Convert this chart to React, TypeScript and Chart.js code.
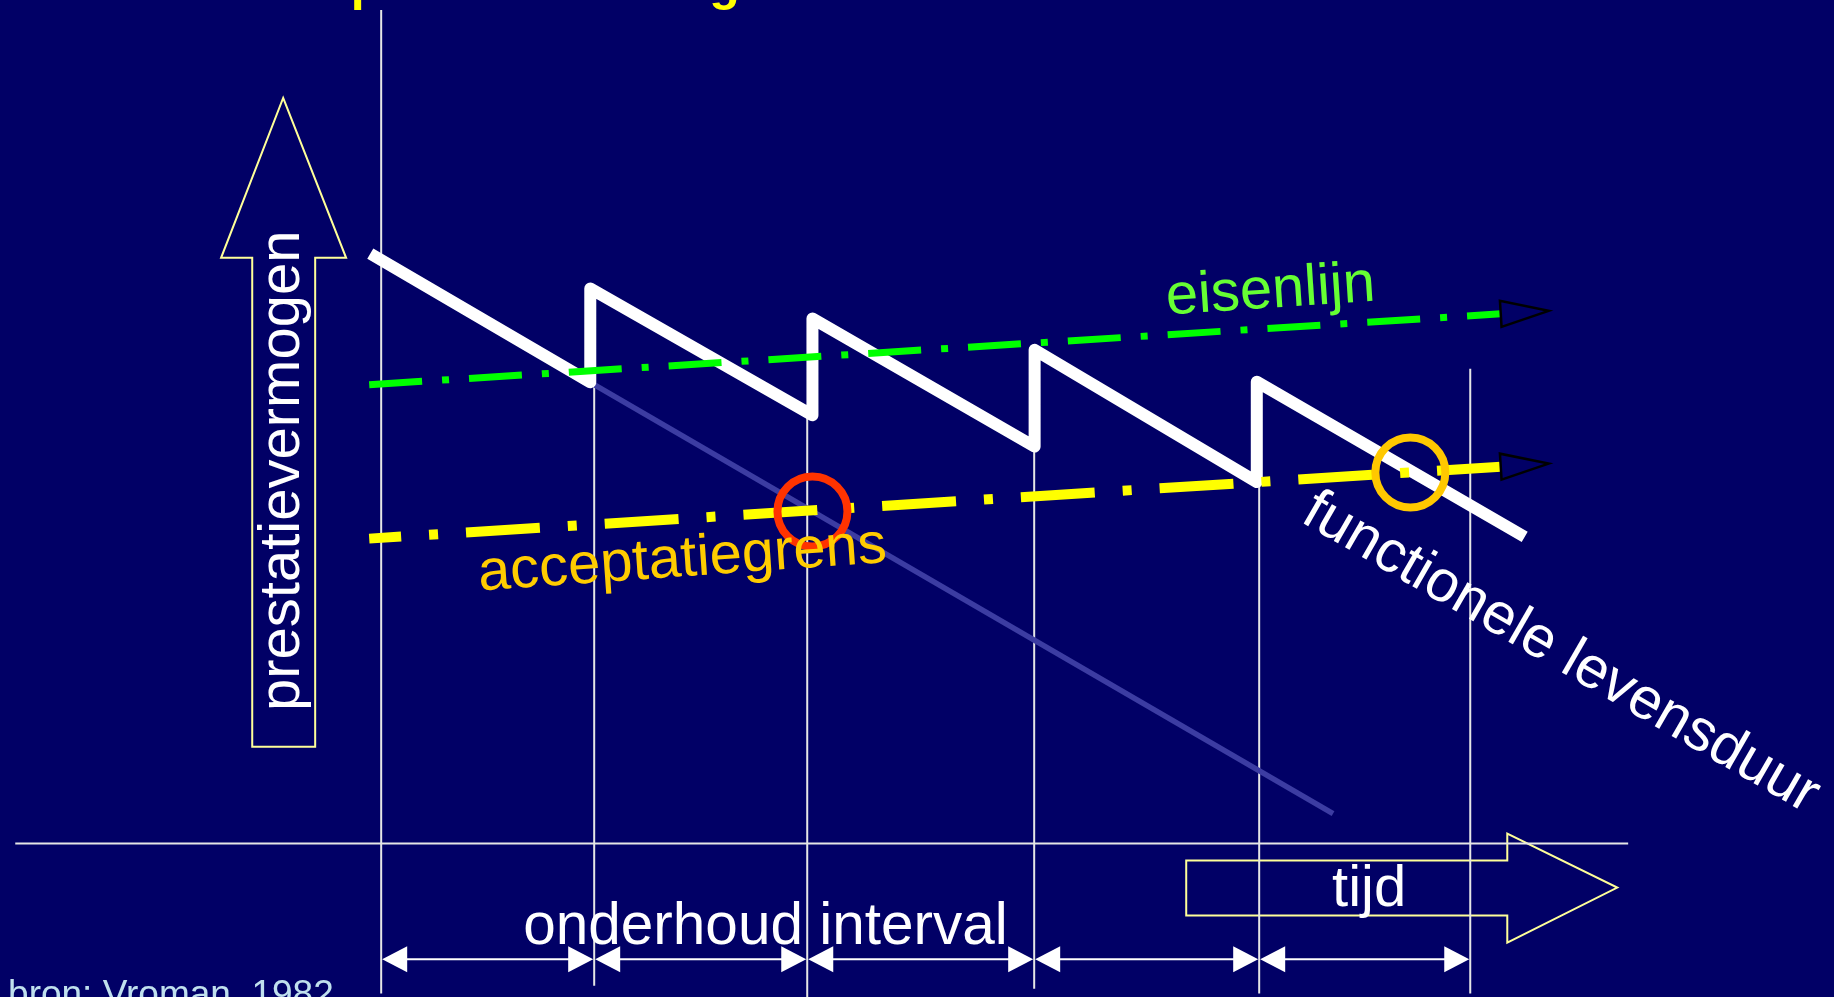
import React, { useEffect, useRef } from 'react';
import { Chart, registerables } from 'chart.js';

Chart.register(...registerables);

// ---- data (time in maintenance intervals, performance in %) ----
const sawTime = [-0.05, 0.96, 0.96, 1.98, 1.98, 3.0, 3.0, 4.02, 4.02, 5.25];
const sawPerf = [100, 78.2, 94.1, 72.6, 89.0, 67.3, 83.7, 61.3, 78.3, 52.0];
const decayTime = [0.96, 4.37];
const decayPerf = [78.2, 5.1];
const reqTime = [-0.055, 5.14];
const reqPerf = [77.8, 89.8];
const accTime = [-0.055, 5.14];
const accPerf = [51.7, 63.9];
const markTime = [1.98, 4.725];
const markPerf = [56.3, 62.9];
const markColors = ['#ff3300', '#ffc800'];
const intervalBounds = [0, 0.978, 1.956, 2.998, 4.031, 5.0];
const boundTop = [141.3, 77.6, 72.9, 67.1, 60.8, 80.5];
const boundBottom = [-25.4, -24.1, -26.1, -24.6, -25.4, -25.4];
const axisTimeRange = [-1.68, 5.725];
const intervalArrowPerf = -19.6;

const BG = '#010066';
const FONT = '"Liberation Sans", Arial, sans-serif';

type Lbl = { text: string; t: number; p: number; angle: number; align: CanvasTextAlign; color: string; size: number; bold?: boolean };
const labels: Lbl[] = [
  { text: 'prestatievermogen', t: -0.14, p: 143.05, angle: 0, align: 'left', color: '#ffff00', size: 50, bold: true },
  { text: 'prestatievermogen', t: -0.376, p: 63.2, angle: -90, align: 'center', color: '#ffffff', size: 58 },
  { text: 'eisenlijn', t: 3.608, p: 89.7, angle: -3.8, align: 'left', color: '#66ff33', size: 58 },
  { text: 'acceptatiegrens', t: 0.45, p: 42.9, angle: -4, align: 'left', color: '#ffcc00', size: 58 },
  { text: 'functionele levensduur', t: 4.215, p: 54.7, angle: 30, align: 'left', color: '#ffffff', size: 58.5 },
  { text: 'onderhoud interval', t: 0.652, p: -17.1, angle: 0, align: 'left', color: '#ffffff', size: 58.5 },
  { text: 'tijd', t: 4.536, p: -10.5, angle: 0, align: 'center', color: '#ffffff', size: 58 },
  { text: 'bron: Vroman, 1982', t: -1.713, p: -27.6, angle: 0, align: 'left', color: '#c0e0ee', size: 37 },
];

const perfArrow = [[-0.45, 126.4], [-0.161, 99.3], [-0.303, 99.3], [-0.303, 16.4], [-0.592, 16.4], [-0.592, 99.3], [-0.735, 99.3]];
const timeArrow = [[3.696, -2.88], [5.17, -2.88], [5.17, 1.69], [5.675, -7.46], [5.17, -16.8], [5.17, -12.2], [3.696, -12.2]];

const decor = {
  id: 'decor',
  beforeDraw(chart: any) {
    const ctx = chart.ctx;
    ctx.save();
    ctx.fillStyle = BG;
    ctx.fillRect(0, 0, chart.width, chart.height);
    ctx.restore();
  },
  beforeDatasetsDraw(chart: any) {
    const ctx = chart.ctx;
    const X = (v: number) => chart.scales.x.getPixelForValue(v);
    const Y = (v: number) => chart.scales.y.getPixelForValue(v);
    ctx.save();
    // block arrows
    ctx.strokeStyle = '#ffff99';
    ctx.lineWidth = 2;
    ctx.lineJoin = 'miter';
    for (const poly of [perfArrow, timeArrow]) {
      ctx.beginPath();
      poly.forEach(([t, p], i) => (i ? ctx.lineTo(X(t), Y(p)) : ctx.moveTo(X(t), Y(p))));
      ctx.closePath();
      ctx.stroke();
    }
    // vertical interval lines
    ctx.strokeStyle = '#e6e6e6';
    ctx.lineWidth = 2;
    intervalBounds.forEach((b, i) => {
      ctx.beginPath();
      ctx.moveTo(X(b), Y(boundTop[i]));
      ctx.lineTo(X(b), Y(boundBottom[i]));
      ctx.stroke();
    });
    // time axis
    ctx.beginPath();
    ctx.moveTo(X(axisTimeRange[0]), Y(0));
    ctx.lineTo(X(axisTimeRange[1]), Y(0));
    ctx.stroke();
    // interval double arrows
    const ay = Y(intervalArrowPerf);
    ctx.strokeStyle = '#ffffff';
    ctx.fillStyle = '#ffffff';
    for (let i = 0; i < intervalBounds.length - 1; i++) {
      const x0 = X(intervalBounds[i]) + 1;
      const x1 = X(intervalBounds[i + 1]) - 1;
      ctx.beginPath();
      ctx.moveTo(x0 + 10, ay);
      ctx.lineTo(x1 - 10, ay);
      ctx.stroke();
      ctx.beginPath();
      ctx.moveTo(x0, ay);
      ctx.lineTo(x0 + 25, ay - 13);
      ctx.lineTo(x0 + 25, ay + 13);
      ctx.closePath();
      ctx.fill();
      ctx.beginPath();
      ctx.moveTo(x1, ay);
      ctx.lineTo(x1 - 25, ay - 13);
      ctx.lineTo(x1 - 25, ay + 13);
      ctx.closePath();
      ctx.fill();
    }
    ctx.restore();
  },
  afterDatasetsDraw(chart: any) {
    const ctx = chart.ctx;
    const X = (v: number) => chart.scales.x.getPixelForValue(v);
    const Y = (v: number) => chart.scales.y.getPixelForValue(v);
    ctx.save();
    // open arrowheads at the end of the two limit lines
    ctx.strokeStyle = '#000000';
    ctx.lineWidth = 2.5;
    ctx.lineJoin = 'miter';
    for (const [ts, ps] of [[reqTime, reqPerf], [accTime, accPerf]]) {
      const xa = X(ts[0]), ya = Y(ps[0]), xb = X(ts[1]), yb = Y(ps[1]);
      const a = Math.atan2(yb - ya, xb - xa);
      const dx = Math.cos(a), dy = Math.sin(a);
      ctx.beginPath();
      ctx.moveTo(xb - dy * 13, yb + dx * 13);
      ctx.lineTo(xb + dx * 48, yb + dy * 48);
      ctx.lineTo(xb + dy * 13, yb - dx * 13);
      ctx.closePath();
      ctx.stroke();
    }
    // labels
    ctx.textBaseline = 'alphabetic';
    for (const l of labels) {
      ctx.save();
      ctx.translate(X(l.t), Y(l.p));
      ctx.rotate((l.angle * Math.PI) / 180);
      ctx.font = `${l.bold ? 'bold ' : ''}${l.size}px ${FONT}`;
      ctx.fillStyle = l.color;
      ctx.textAlign = l.align;
      ctx.fillText(l.text, 0, 0);
      ctx.restore();
    }
    ctx.restore();
  },
};

const pts = (ts: number[], ps: number[]) => ts.map((t, i) => ({ x: t, y: ps[i] }));

export default function App() {
  const ref = useRef<HTMLCanvasElement | null>(null);
  useEffect(() => {
    const canvas = ref.current;
    if (!canvas) return;
    const chart = new Chart(canvas, {
      type: 'line',
      data: {
        datasets: [
          {
            label: 'markering',
            data: pts(markTime, markPerf),
            showLine: false,
            pointStyle: 'circle',
            pointRadius: 35,
            pointHoverRadius: 35,
            pointBorderWidth: 8,
            pointBorderColor: markColors,
            pointBackgroundColor: 'rgba(0,0,0,0)',
            order: 0,
          } as any,
          {
            label: 'eisenlijn',
            data: pts(reqTime, reqPerf),
            borderColor: '#00ff00',
            borderWidth: 7,
            borderDash: [53, 20, 7, 20],
            borderDashOffset: 0,
            borderCapStyle: 'butt',
            pointRadius: 0,
            order: 1,
          },
          {
            label: 'acceptatiegrens',
            data: pts(accTime, accPerf),
            borderColor: '#ffff00',
            borderWidth: 10,
            borderDash: [74, 28, 9, 28],
            borderDashOffset: 42,
            borderCapStyle: 'butt',
            pointRadius: 0,
            order: 2,
          },
          {
            label: 'prestatie met onderhoud',
            data: pts(sawTime, sawPerf),
            borderColor: '#ffffff',
            borderWidth: 12,
            borderJoinStyle: 'round',
            borderCapStyle: 'butt',
            pointRadius: 0,
            order: 3,
          },
          {
            label: 'prestatie zonder onderhoud',
            data: pts(decayTime, decayPerf),
            borderColor: '#3c3ca2',
            borderWidth: 5.5,
            borderCapStyle: 'butt',
            pointRadius: 0,
            order: 4,
          },
        ],
      },
      options: {
        responsive: false,
        animation: false,
        devicePixelRatio: 1,
        events: [],
        layout: { padding: 0, autoPadding: false },
        plugins: { legend: { display: false }, tooltip: { enabled: false }, title: { display: false } },
        elements: { line: { tension: 0 }, point: { radius: 0 } },
        scales: {
          x: { type: 'linear', min: -1.75, max: 6.67, display: false },
          y: { type: 'linear', min: -26, max: 143, display: false },
        },
      } as any,
      plugins: [decor],
    });
    return () => chart.destroy();
  }, []);
  return (
    <div style={{ position: 'fixed', left: 0, top: 0, width: 1834, height: 997, background: BG, overflow: 'hidden' }}>
      <canvas ref={ref} width={1834} height={997} style={{ display: 'block', width: 1834, height: 997 }} />
    </div>
  );
}
